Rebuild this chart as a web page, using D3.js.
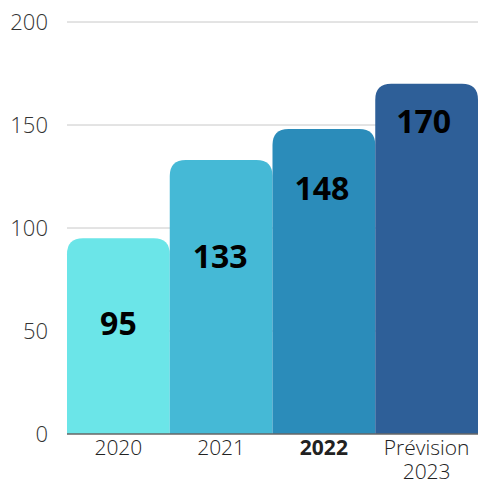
<!DOCTYPE html>
<html>
<head>
<meta charset="utf-8">
<script src="https://cdn.jsdelivr.net/npm/d3@7"></script>
<style>
  body { margin: 0; background: #fff; }
  svg { font-family: 'Open Sans', sans-serif; }
</style>
</head>
<body>
<svg width="478" height="481"></svg>
<script>
const categories = ['2020', '2021', '2022', 'Prévision 2023'];
const values = [95, 133, 148, 170];
const colors = ['#6be5e8', '#45b9d6', '#2b8cba', '#2e5f98'];
const yTicks = [0, 50, 100, 150, 200];

const margin = { top: 22, right: 0, bottom: 47, left: 67 };
const width = 478, height = 481;
const svg = d3.select('svg');

const x = d3.scaleBand().domain(categories)
  .range([margin.left, width - margin.right]).padding(0);
const y = d3.scaleLinear().domain([0, 200])
  .range([height - margin.bottom, margin.top]);

// grid
svg.append('g').selectAll('line').data(yTicks.slice(1))
  .enter().append('line')
  .attr('x1', margin.left).attr('x2', width)
  .attr('y1', d => y(d)).attr('y2', d => y(d))
  .attr('stroke', '#c8c8c8').attr('stroke-width', 1);

svg.append('g').selectAll('text').data(yTicks)
  .enter().append('text')
  .attr('x', 48).attr('y', d => y(d))
  .attr('dy', '0.35em')
  .attr('text-anchor', 'end')
  .attr('font-size', 22)
  .attr('font-weight', 300)
  .attr('fill', '#333')
  .text(d => d);

// bars with rounded tops
const r = 16;
function barPath(d, i) {
  const x0 = x(categories[i]), x1 = x0 + x.bandwidth();
  const top = y(d), bottom = y(0);
  return `M${x0},${bottom}V${top + r}Q${x0},${top} ${x0 + r},${top}` +
    `H${x1 - r}Q${x1},${top} ${x1},${top + r}V${bottom}Z`;
}
svg.append('g').selectAll('path').data(values)
  .enter().append('path')
  .attr('d', barPath)
  .attr('fill', (d, i) => colors[i]);

// value labels
svg.append('g').selectAll('text').data(values)
  .enter().append('text')
  .attr('x', (d, i) => x(categories[i]) + x.bandwidth() / 2 - i)
  .attr('y', (d, i) => y(53.5 + i * 32.7))
  .attr('dy', '0.35em')
  .attr('text-anchor', 'middle')
  .attr('font-size', 32)
  .attr('font-weight', 700)
  .attr('fill', '#000')
  .text(d => d);

// baseline
svg.append('line')
  .attr('x1', margin.left).attr('x2', width)
  .attr('y1', y(0)).attr('y2', y(0))
  .attr('stroke', '#666').attr('stroke-width', 1.5);

// x labels
const xl = svg.append('g').selectAll('text').data(categories)
  .enter().append('text')
  .attr('x', d => x(d) + x.bandwidth() / 2)
  .attr('y', y(0) + 21)
  .attr('text-anchor', 'middle')
  .attr('font-size', 21)
  .attr('fill', '#222')
  .attr('font-weight', d => d === '2022' ? 700 : 300);

xl.each(function (d) {
  const words = d.split(' ');
  const t = d3.select(this);
  words.forEach((w, k) => {
    t.append('tspan')
      .attr('x', x(d) + x.bandwidth() / 2)
      .attr('dy', k === 0 ? 0 : 24)
      .text(w);
  });
});
</script>
</body>
</html>
